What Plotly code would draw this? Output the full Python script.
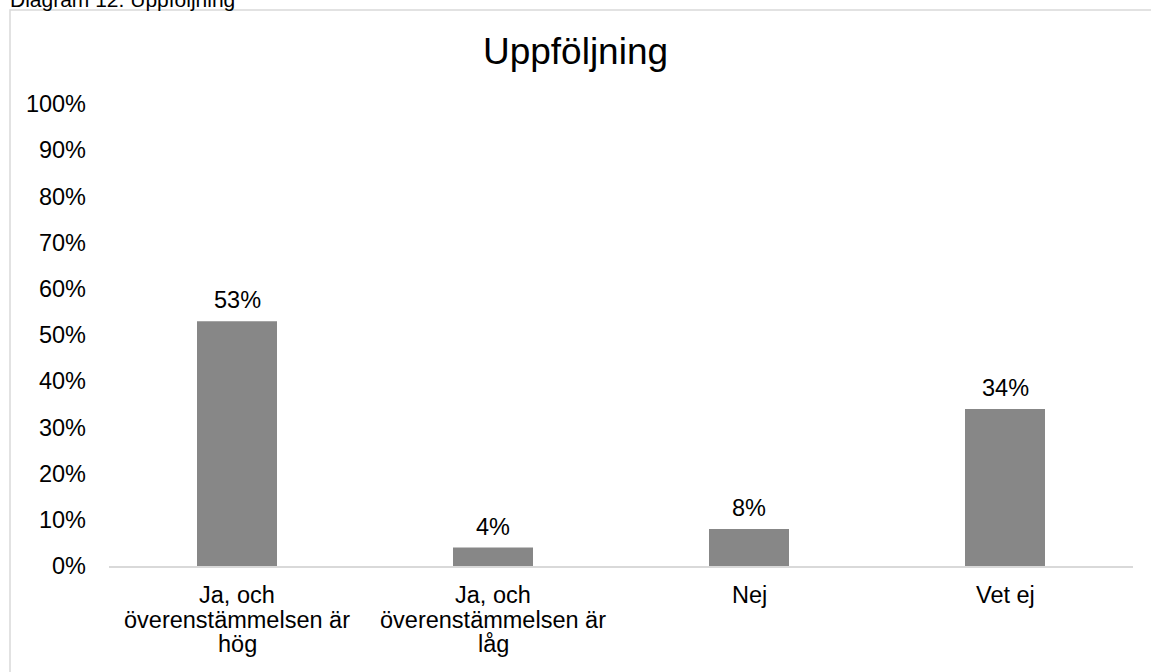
import plotly.graph_objects as go

categories = ["Ja, och<br>överenstämmelsen är<br>hög", "Ja, och<br>överenstämmelsen är<br>låg", "Nej", "Vet ej"]
values = [0.53, 0.04, 0.08, 0.34]
labels = ["53%", "4%", "8%", "34%"]
tick_vals = [i / 10 for i in range(11)]
tick_text = [f"{i*10}%" for i in range(11)]

FONT = "Liberation Sans, Arial, sans-serif"
FS = 23.5
LINE_GAP = 24.5

fig = go.Figure()
fig.add_trace(go.Bar(x=categories, y=values, marker=dict(color="#878787", line=dict(width=0)),
                     hoverinfo="skip"))

for c, v, t in zip(categories, values, labels):
    fig.add_annotation(x=c, y=v, text=t, showarrow=False, yanchor="bottom",
                       yshift=6, font=dict(size=FS, color="#000000", family=FONT))

# category labels (tighter line spacing than plotly tick labels)
for c in categories:
    for i, line in enumerate(c.split("<br>")):
        fig.add_annotation(x=c, y=0, text=line, showarrow=False, yanchor="middle",
                           xanchor="center", yshift=-29 - i * LINE_GAP,
                           font=dict(size=FS, color="#000000", family=FONT))

fig.update_layout(
    width=1151, height=672,
    margin=dict(l=109, r=18, t=104, b=106),
    paper_bgcolor="white", plot_bgcolor="white",
    bargap=0.6875,
    showlegend=False,
    font=dict(family=FONT, size=FS, color="#000000"),
    title=dict(text="Uppföljning", x=0.5, xanchor="center", y=1 - 51 / 672, yanchor="middle",
               font=dict(size=37, family=FONT, color="#000000")),
    xaxis=dict(showgrid=False, showline=True, linecolor="#d9d9d9", linewidth=1.5,
               ticks="", showticklabels=False, zeroline=False, fixedrange=True),
    yaxis=dict(range=[0, 1], tickvals=tick_vals, ticktext=tick_text, showgrid=False,
               zeroline=False, showline=False, ticks="", ticklabelstandoff=22,
               tickfont=dict(size=FS), fixedrange=True),
)

# outer chart border
fig.add_shape(type="rect", xref="paper", yref="paper",
              x0=(10 - 109) / 1024, x1=1.2, y0=-0.4, y1=1 + (104 - 10) / 462,
              line=dict(color="#d9d9d9", width=1.5), fillcolor="rgba(0,0,0,0)", layer="below")

fig.add_annotation(xref="paper", yref="paper", x=(9 - 109) / 1024, y=1 + (104 - 12) / 462,
                   xanchor="left", yanchor="bottom", showarrow=False, borderpad=0,
                   text="Diagram 12. Uppföljning",
                   font=dict(size=21, family=FONT, color="#000000"))

fig.write_html("out.html", config={"displayModeBar": False},
               post_script="document.body.style.margin='0px';document.body.style.overflow='hidden';")
